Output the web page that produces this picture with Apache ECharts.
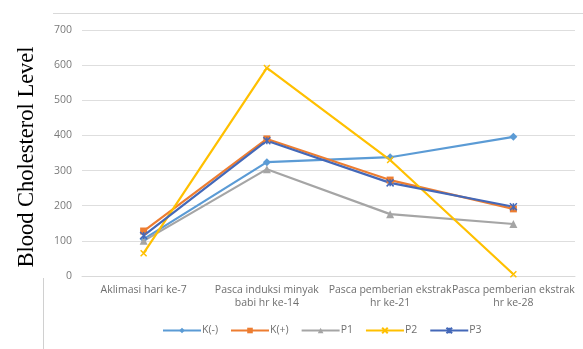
<!DOCTYPE html>
<html>
<head>
<meta charset="utf-8">
<script src="https://cdn.jsdelivr.net/npm/echarts@6/dist/echarts.min.js"></script>
<style>
  html, body { margin: 0; padding: 0; background: #fff; }
  #chart { width: 583px; height: 349px; }
</style>
</head>
<body>
<div id="chart"></div>
<script>
// Time points of the observation
const categories = [
  'Aklimasi hari ke-7',
  'Pasca induksi minyak\nbabi hr ke-14',
  'Pasca pemberian ekstrak\nhr ke-21',
  'Pasca pemberian ekstrak\nhr ke-28'
];

// Blood cholesterol per group
const kMinus = [105, 324, 338, 396];
const kPlus  = [128, 390, 273, 191];
const p1     = [100, 304, 176, 148];
const p2     = [65, 592, 330, 5];
const p3     = [115, 385, 265, 197];

const yTicks = [0, 100, 200, 300, 400, 500, 600, 700];

const crossPath = 'path://M0,0L10,10M10,0L0,10';
const starPath = 'path://M0,0L10,10M10,0L0,10M5,0L5,10';

function lineSeries(name, data, color, symbol, size, stroked) {
  return {
    name: name,
    type: 'line',
    data: data,
    symbol: symbol,
    symbolSize: size,
    showAllSymbol: true,
    lineStyle: { color: color, width: 2.2 },
    itemStyle: stroked
      ? { color: color, borderColor: color, borderWidth: 1.5 }
      : { color: color, borderWidth: 0 },
    emphasis: { disabled: true },
    animation: false
  };
}

const chart = echarts.init(document.getElementById('chart'), null, { renderer: 'canvas' });

chart.setOption({
  backgroundColor: '#ffffff',
  animation: false,
  grid: { left: 82, right: 8, top: 30, bottom: 73, containLabel: false },
  xAxis: {
    type: 'category',
    data: categories,
    boundaryGap: true,
    axisLine: { lineStyle: { color: '#d9d9d9', width: 1 } },
    axisTick: { show: false },
    axisLabel: {
      interval: 0,
      color: '#6f6f6f',
      fontFamily: 'Open Sans',
      fontSize: 10.5,
      lineHeight: 13,
      margin: 8
    }
  },
  yAxis: {
    type: 'value',
    min: yTicks[0],
    max: yTicks[yTicks.length - 1],
    interval: 100,
    axisLine: { show: false },
    axisTick: { show: false },
    splitLine: { lineStyle: { color: '#dedede', width: 1 } },
    axisLabel: {
      color: '#7a7a7a',
      fontFamily: 'Open Sans',
      fontSize: 10.5,
      margin: 10
    }
  },
  legend: {
    bottom: 8,
    left: 157,
    itemWidth: 38,
    itemHeight: 7,
    itemGap: 12,
    textStyle: { color: '#6f6f6f', fontFamily: 'Open Sans', fontSize: 10.5, padding: [0, 0, 0, -4] },
    data: ['K(-)', 'K(+)', 'P1', 'P2', 'P3']
  },
  graphic: [
    {
      type: 'line',
      shape: { x1: 53, y1: 13.5, x2: 583, y2: 13.5 },
      style: { stroke: '#d9d9d9', lineWidth: 1 },
      silent: true
    },
    {
      type: 'line',
      shape: { x1: 43.5, y1: 278, x2: 43.5, y2: 349 },
      style: { stroke: '#d0d0d0', lineWidth: 1 },
      silent: true
    },
    {
      type: 'text',
      x: 27,
      y: 157,
      rotation: Math.PI / 2,
      style: {
        text: 'Blood Cholesterol Level',
        font: '22.5px "Liberation Serif"',
        fill: '#000000',
        textAlign: 'center',
        textVerticalAlign: 'middle'
      },
      silent: true
    }
  ],
  series: [
    lineSeries('K(-)', kMinus, '#5b9bd5', 'diamond', 8, false),
    lineSeries('K(+)', kPlus, '#ed7d31', 'rect', 7, false),
    lineSeries('P1', p1, '#a5a5a5', 'triangle', 8, false),
    lineSeries('P2', p2, '#ffc000', crossPath, 6, true),
    lineSeries('P3', p3, '#4468b8', starPath, 7, true)
  ]
});
</script>
</body>
</html>
